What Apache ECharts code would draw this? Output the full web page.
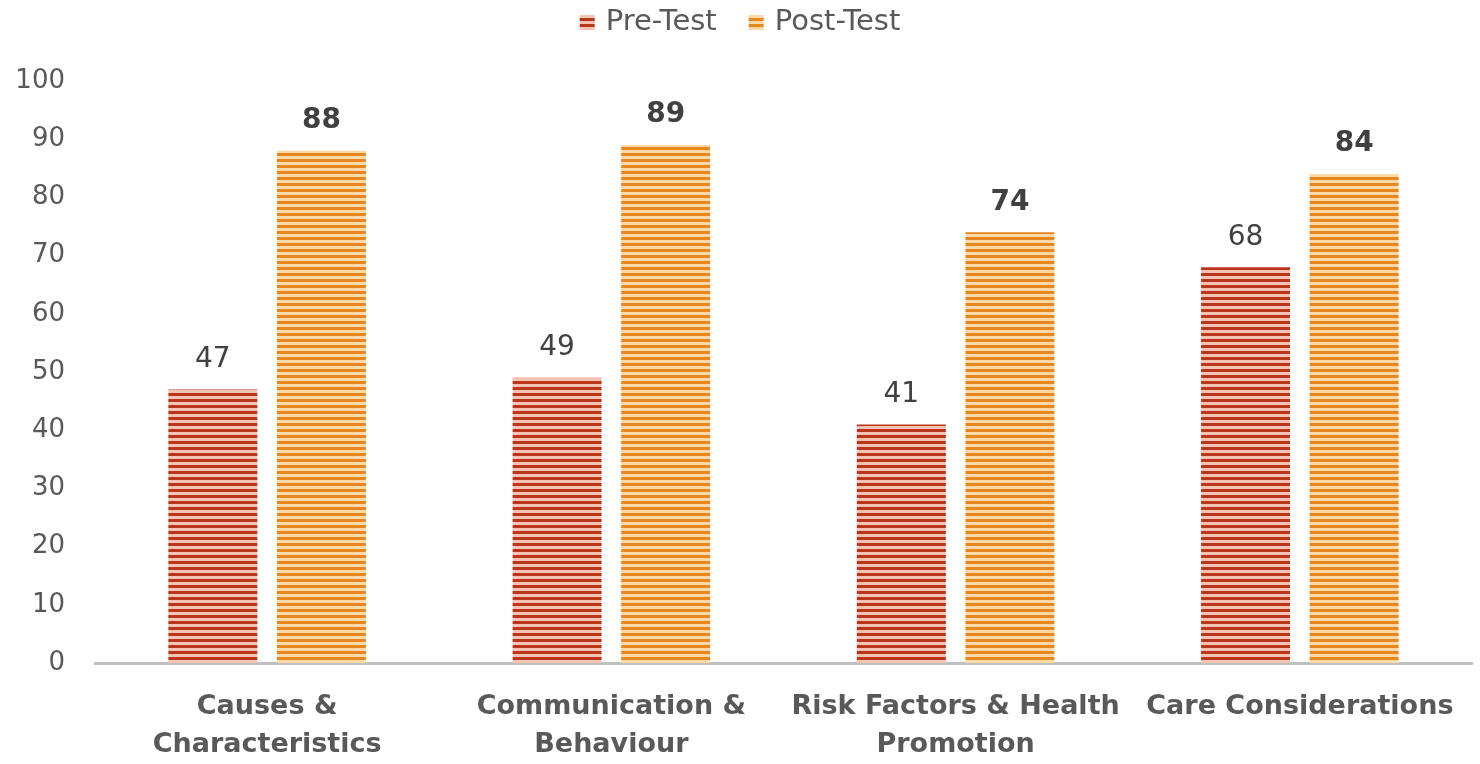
<!DOCTYPE html>
<html>
<head>
<meta charset="utf-8">
<script src="https://cdn.jsdelivr.net/npm/echarts@6/dist/echarts.min.js"></script>
<style>
html, body { margin: 0; padding: 0; background: #fff; }
#main { width: 1480px; height: 764px; }
</style>
</head>
<body>
<div id="main"></div>
<script>
const categories = ['Causes &\nCharacteristics', 'Communication &\nBehaviour', 'Risk Factors & Health\nPromotion', 'Care Considerations'];
const preTest = [47, 49, 41, 68];
const postTest = [88, 89, 74, 84];
const yTicks = { min: 0, max: 100, interval: 10 };

// striped fill like the original pattern
function stripes(dark, light) {
    const c = document.createElement('canvas');
    c.width = 4;
    c.height = 6;
    const ctx = c.getContext('2d');
    ctx.fillStyle = light;
    ctx.fillRect(0, 0, 4, 6);
    ctx.fillStyle = dark;
    ctx.fillRect(0, 3, 4, 3);
    return { image: c, repeat: 'repeat' };
}

const font = '"DejaVu Sans", sans-serif';
const chart = echarts.init(document.getElementById('main'));
const option = {
    animation: false,
    legend: {
        data: ['Pre-Test', 'Post-Test'],
        top: 3,
        left: 'center',
        icon: 'rect',
        itemWidth: 15,
        itemHeight: 15,
        itemGap: 32,
        textStyle: { color: '#595959', fontSize: 29, fontFamily: font, padding: [0, 0, 0, 6] }
    },
    grid: { top: 81, left: 95, right: 8, bottom: 99, containLabel: false },
    xAxis: {
        type: 'category',
        data: categories,
        axisTick: { show: false },
        axisLine: { lineStyle: { color: '#BFBFBF', width: 3 } },
        axisLabel: {
            color: '#595959',
            fontSize: 27,
            fontWeight: 'bold',
            fontFamily: font,
            lineHeight: 38,
            margin: 25,
            interval: 0
        }
    },
    yAxis: {
        type: 'value',
        min: yTicks.min,
        max: yTicks.max,
        interval: yTicks.interval,
        splitLine: { show: false },
        axisLine: { show: false },
        axisTick: { show: false },
        axisLabel: { color: '#595959', fontSize: 26, fontFamily: font, margin: 30 }
    },
    series: [{
        name: 'Pre-Test',
        type: 'bar',
        data: preTest,
        barWidth: 89,
        barGap: '22%',
        itemStyle: { color: stripes('#B8361A', '#F4C3B3') },
        label: { show: true, position: 'top', distance: 16, color: '#404040', fontSize: 28, fontFamily: font }
    }, {
        name: 'Post-Test',
        type: 'bar',
        data: postTest,
        barWidth: 89,
        itemStyle: { color: stripes('#E8861F', '#FBDAA8') },
        label: { show: true, position: 'top', distance: 16, color: '#404040', fontSize: 28, fontWeight: 'bold', fontFamily: font }
    }]
};
chart.setOption(option);
</script>
</body>
</html>
